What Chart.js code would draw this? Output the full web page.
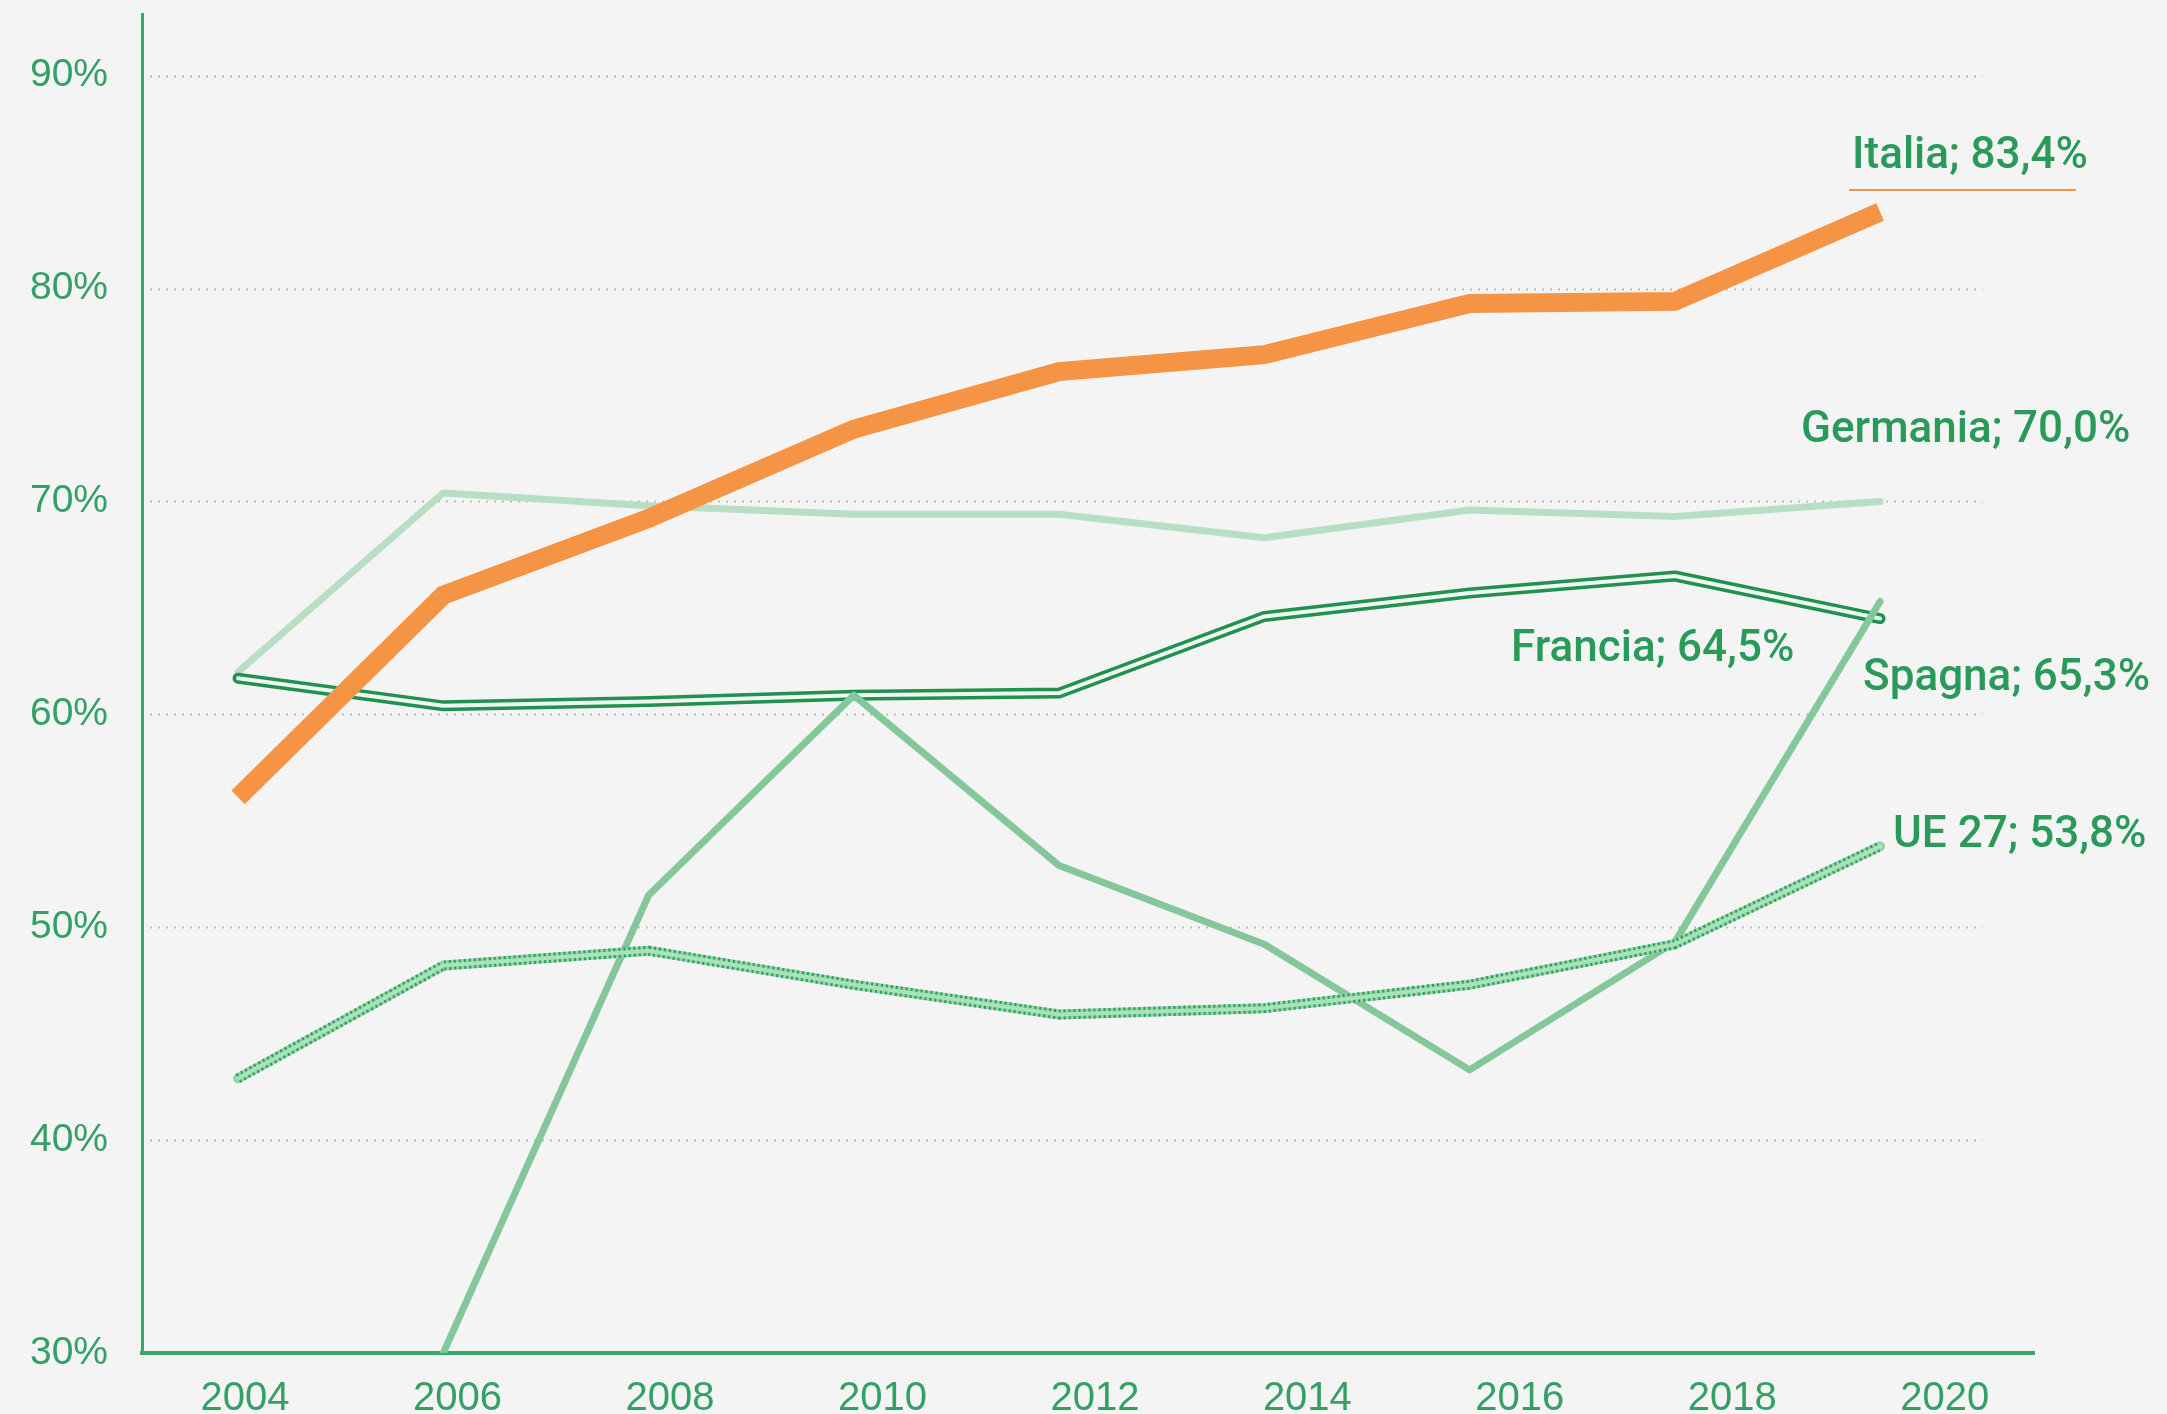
<!DOCTYPE html>
<html lang="it">
<head>
    <meta charset="UTF-8">
    <title>Italia, Germania, Francia, Spagna, UE 27</title>
    <script src="https://cdn.jsdelivr.net/npm/chart.js"></script>
    <style>
        body {
            margin: 0;
            background: #f4f4f4;
        }

        .chart-box {
            width: 2167px;
            height: 1414px;
        }
    </style>
</head>
<body>
    <div class="chart-box">
        <canvas id="chart"></canvas>
    </div>

    <script>
        // dati
        const years = [2004, 2006, 2008, 2010, 2012, 2014, 2016, 2018, 2020];
        const yearTicks = [2004, 2006, 2008, 2010, 2012, 2014, 2016, 2018, 2020];
        const percentTicks = [30, 40, 50, 60, 70, 80, 90];

        const italia = [56.1, 65.6, 69.2, 73.4, 76.1, 76.9, 79.3, 79.4, 83.6];
        const germania = [62.0, 70.4, 69.8, 69.4, 69.4, 68.3, 69.6, 69.3, 70.0];
        const francia = [61.7, 60.4, 60.6, 60.9, 61.0, 64.6, 65.7, 66.5, 64.5];
        const spagna = [null, 30.0, 51.5, 60.9, 52.9, 49.2, 43.3, 49.3, 65.3];
        const ue27 = [42.9, 48.2, 48.9, 47.3, 45.9, 46.2, 47.3, 49.2, 53.8];

        const seriesNames = ['Italia; 83,4%', 'Germania; 70,0%', 'Francia; 64,5%', 'Spagna; 65,3%', 'UE 27; 53,8%'];

        const labelGreen = '#2a9a5b';
        const axisGreen = '#35a96b';

        function points(values) {
            return years.map((year, i) => ({ x: year, y: values[i] }));
        }

        function line(values, color, width, order, extra) {
            return Object.assign({
                data: points(values),
                borderColor: color,
                borderWidth: width,
                pointRadius: 0,
                tension: 0,
                borderCapStyle: 'round',
                borderJoinStyle: 'round',
                spanGaps: false,
                order: order
            }, extra || {});
        }

        // linee tratteggiate della griglia (si fermano prima della fine dell'asse)
        const dottedGrid = {
            id: 'dottedGrid',
            beforeDatasetsDraw(chart) {
                const { ctx, chartArea, scales } = chart;
                ctx.save();
                ctx.strokeStyle = '#bdbdbd';
                ctx.lineWidth = 2;
                ctx.setLineDash([2, 6]);
                percentTicks.filter(v => v > 30).forEach(v => {
                    const py = Math.round(scales.y.getPixelForValue(v)) + 0.5;
                    ctx.beginPath();
                    ctx.moveTo(chartArea.left + 8, py);
                    ctx.lineTo(scales.x.getPixelForValue(2021), py);
                    ctx.stroke();
                });
                ctx.restore();
            }
        };

        // etichette a fine linea
        const endLabels = {
            id: 'endLabels',
            afterDatasetsDraw(chart) {
                const { ctx, scales } = chart;
                const last = years.length - 1;
                const series = [italia, germania, francia, spagna, ue27];
                const place = [
                    { dx: -28, dy: -55 },
                    { dx: -79, dy: -70 },
                    { dx: -369, dy: 31 },
                    { dx: -17, dy: 77 },
                    { dx: 13, dy: -10 }
                ];
                ctx.save();
                ctx.font = '500 44px Roboto';
                ctx.fillStyle = labelGreen;
                ctx.textAlign = 'left';
                ctx.textBaseline = 'middle';
                series.forEach((values, i) => {
                    const px = scales.x.getPixelForValue(years[last]) + place[i].dx;
                    const py = scales.y.getPixelForValue(values[last]) + place[i].dy;
                    ctx.fillText(seriesNames[i], px, py);
                    if (i === 0) {
                        const w = ctx.measureText(seriesNames[i]).width;
                        ctx.strokeStyle = '#f39245';
                        ctx.lineWidth = 2;
                        ctx.beginPath();
                        ctx.moveTo(px - 3, py + 33);
                        ctx.lineTo(px + w - 12, py + 33);
                        ctx.stroke();
                    }
                });
                ctx.restore();
            }
        };

        const ctx = document.getElementById('chart').getContext('2d');

        new Chart(ctx, {
            type: 'line',
            data: {
                datasets: [
                    line(italia, '#f69446', 19, 0, { borderCapStyle: 'butt', borderJoinStyle: 'miter' }),
                    // UE 27: bordo puntinato con centro chiaro
                    line(ue27, '#a9e2bb', 4, 1),
                    line(ue27, '#2f9a5c', 10, 2, { borderDash: [2, 3], borderCapStyle: 'butt' }),
                    line(ue27, '#8fd6a6', 10, 3),
                    line(spagna, '#84c79b', 7, 4),
                    // Francia: doppia linea
                    line(francia, '#eef7f0', 4, 5),
                    line(francia, '#22914f', 11, 6),
                    line(germania, '#b8dec3', 7, 7)
                ]
            },
            options: {
                responsive: true,
                maintainAspectRatio: false,
                animation: false,
                layout: {
                    padding: { top: 14, right: 133, left: 0, bottom: 0 }
                },
                plugins: {
                    legend: { display: false },
                    tooltip: { enabled: false }
                },
                scales: {
                    x: {
                        type: 'linear',
                        min: 2003.064,
                        max: 2021.5,
                        display: false
                    },
                    years: {
                        type: 'linear',
                        position: 'bottom',
                        min: 2003.03,
                        max: 2020.84,
                        afterBuildTicks: axis => {
                            axis.ticks = yearTicks.map(v => ({ value: v }));
                        },
                        afterFit: axis => {
                            axis.height = 61;
                            axis.paddingLeft = 0;
                            axis.paddingRight = 0;
                        },
                        grid: { display: false, drawTicks: false },
                        border: { display: true, color: axisGreen, width: 4 },
                        ticks: {
                            padding: 22,
                            color: '#34a066',
                            font: { family: 'Liberation Sans', size: 40 },
                            callback: v => String(v),
                            maxRotation: 0,
                            autoSkip: false
                        }
                    },
                    y: {
                        min: 30,
                        max: 92.9,
                        afterBuildTicks: axis => {
                            axis.ticks = percentTicks.map(v => ({ value: v }));
                        },
                        afterFit: axis => {
                            axis.width = 142;
                            axis.paddingTop = 0;
                            axis.paddingBottom = 0;
                        },
                        grid: { display: false, drawTicks: false },
                        border: { display: true, color: axisGreen, width: 3 },
                        ticks: {
                            padding: 34,
                            color: '#34a066',
                            font: { family: 'Liberation Sans', size: 39 },
                            callback: v => v + '%'
                        }
                    }
                }
            },
            plugins: [dottedGrid, endLabels]
        });
    </script>
</body>
</html>
